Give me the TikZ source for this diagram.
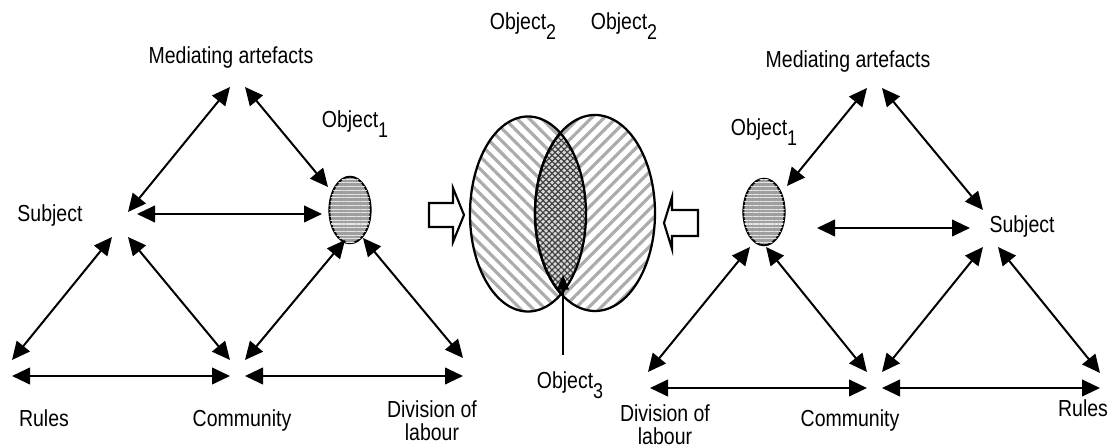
\documentclass[tikz,border=0pt]{standalone}
\usepackage{fontspec}
\setmainfont{Liberation Sans}[FakeStretch=0.84]
\usetikzlibrary{arrows.meta,patterns,patterns.meta,shapes.geometric}
\newcommand{\sbs}[1]{\raisebox{-7pt}{\fontsize{16pt}{16pt}\selectfont #1}}
\tikzset{
  lbl/.style={anchor=base,inner sep=0pt,font=\fontsize{17.4pt}{17.5pt}\selectfont,align=center},
  link/.style={line width=1.5pt,{Triangle[length=13.5pt,width=12.5pt]}-{Triangle[length=13.5pt,width=12.5pt]}},
  obj/.style={ellipse,draw,line width=1.4pt,minimum width=31pt,minimum height=50pt,inner sep=0pt,
    fill=gray!75,postaction={pattern={Lines[angle=0,distance=2.8pt,line width=0.8pt]},pattern color=white!80!gray}},
  hollow/.style={draw,line width=1.6pt,fill=white,line join=miter},
  vennline/.style={draw,line width=1.7pt}
}
\begin{document}
\begin{tikzpicture}[x=0.75pt,y=-0.75pt]
\useasboundingbox (0,0) rectangle (1115,448);

% ---------------- left triangle ----------------
\node[lbl] (LMlab) at (231,64) {Mediating artefacts};
\node[lbl] (LOlab) at (355,128) {Object\sbs{1}};
\node[lbl] (LSlab) at (50,222) {Subject};
\node[lbl] (LRlab) at (44,427) {Rules};
\node[lbl] (LClab) at (242,427) {Community};
\node[lbl] (LDlab) at (432,441) {Division of\\labour};
\node[obj] (LO) at (350,210) {};

\coordinate (LSa) at (128,212); \coordinate (LMa) at (230,87);
\coordinate (LMb) at (245,87);  \coordinate (LOa) at (328,187);
\coordinate (LSb) at (137,214); \coordinate (LOb) at (322,214);
\coordinate (LSc) at (112,237); \coordinate (LRa) at (12,360);
\coordinate (LSd) at (128,237); \coordinate (LCa) at (230,360);
\coordinate (LOc) at (345,240); \coordinate (LCb) at (245,360);
\coordinate (LOd) at (363,238); \coordinate (LDa) at (463,358);
\coordinate (LRb) at (12,376);  \coordinate (LCc) at (230,376);
\coordinate (LCd) at (245,376); \coordinate (LDb) at (463,376);

\draw[link] (LSa) -- (LMa);
\draw[link] (LMb) -- (LOa);
\draw[link] (LSb) -- (LOb);
\draw[link] (LSc) -- (LRa);
\draw[link] (LSd) -- (LCa);
\draw[link] (LOc) -- (LCb);
\draw[link] (LOd) -- (LDa);
\draw[link] (LRb) -- (LCc);
\draw[link] (LCd) -- (LDb);

% hollow arrows
\draw[hollow] (429,203) -- (453,203) -- (453,188) -- (464,215) -- (453,242) -- (453,227) -- (429,227) -- cycle;
\draw[hollow] (698,210) -- (672,210) -- (672,197) -- (664,223) -- (672,249) -- (672,236) -- (698,236) -- cycle;

% ---------------- Venn ----------------
\fill[white] (528,214) ellipse [x radius=58, y radius=97.5];
\fill[white] (595,213) ellipse [x radius=60, y radius=98];
\fill[pattern={Lines[angle=-45,distance=6.6pt,line width=2.4pt]},pattern color=gray!65]
  (528,214) ellipse [x radius=58, y radius=97.5];
\fill[pattern={Lines[angle=45,distance=6.6pt,line width=2.4pt]},pattern color=gray!65]
  (595,213) ellipse [x radius=60, y radius=98];
\begin{scope}
  \clip (528,214) ellipse [x radius=58, y radius=97.5];
  \fill[gray!30] (595,213) ellipse [x radius=60, y radius=98];
  \fill[pattern={Lines[angle=45,distance=3.2pt,line width=0.9pt]},pattern color=black!75]
    (595,213) ellipse [x radius=60, y radius=98];
  \fill[pattern={Lines[angle=-45,distance=3.2pt,line width=0.9pt]},pattern color=black!75]
    (595,213) ellipse [x radius=60, y radius=98];
  \draw[vennline] (595,213) ellipse [x radius=60, y radius=98];
\end{scope}
\draw[vennline] (528,214) ellipse [x radius=58, y radius=97.5];
\draw[vennline] (595,213) ellipse [x radius=60, y radius=98];

\node[lbl] (O2a) at (523,30) {Object\sbs{2}};
\node[lbl] (O2b) at (624,30) {Object\sbs{2}};
\node[lbl] (O3lab) at (570,389) {Object\sbs{3}};
\coordinate (O3s) at (563,355);
\coordinate (O3t) at (563,275);
\draw[line width=1pt,-{Triangle[length=11pt,width=9pt]}] (O3s) -- (O3t);

% ---------------- right triangle ----------------
\node[lbl] (RMlab) at (848,68) {Mediating artefacts};
\node[lbl] (ROlab) at (764,136) {Object\sbs{1}};
\node[lbl] (RSlab) at (1022,233) {Subject};
\node[lbl] (RRlab) at (1083,417) {Rules};
\node[lbl] (RClab) at (850,427) {Community};
\node[lbl] (RDlab) at (665,445) {Division of\\labour};
\node[obj] (RO) at (764,212) {};

\coordinate (RMa) at (867,88);  \coordinate (ROa) at (787,186);
\coordinate (RMb) at (882,88);  \coordinate (RSa) at (983,210);
\coordinate (ROb) at (817,228); \coordinate (RSb) at (970,228);
\coordinate (RSc) at (983,247); \coordinate (RCa) at (882,372);
\coordinate (RSd) at (998,247); \coordinate (RRa) at (1100,373);
\coordinate (ROc) at (750,247); \coordinate (RDa) at (648,372);
\coordinate (ROd) at (766,247); \coordinate (RCb) at (867,372);
\coordinate (RDb) at (650,388); \coordinate (RCc) at (867,388);
\coordinate (RCd) at (882,388); \coordinate (RRb) at (1100,388);

\draw[link] (RMa) -- (ROa);
\draw[link] (RMb) -- (RSa);
\draw[link] (ROb) -- (RSb);
\draw[link] (RSc) -- (RCa);
\draw[link] (RSd) -- (RRa);
\draw[link] (ROc) -- (RDa);
\draw[link] (ROd) -- (RCb);
\draw[link] (RDb) -- (RCc);
\draw[link] (RCd) -- (RRb);
\end{tikzpicture}
\end{document}
